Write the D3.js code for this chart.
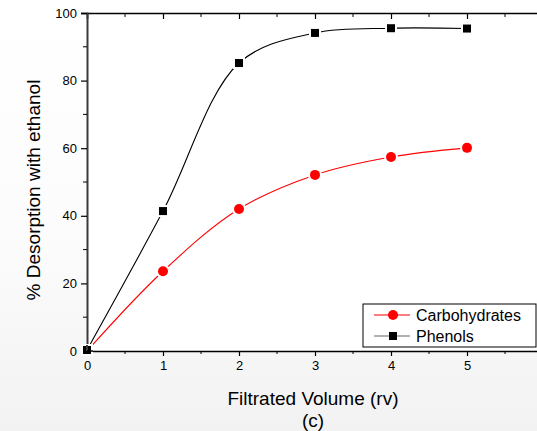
<!DOCTYPE html>
<html>
<head>
<meta charset="utf-8">
<script src="https://cdn.jsdelivr.net/npm/d3@7"></script>
<style>
  html, body { margin: 0; padding: 0; }
  body { width: 537px; height: 431px; overflow: hidden; }
  text { font-family: "Liberation Sans", Arial, sans-serif; }
</style>
</head>
<body>
<svg id="chart" width="537" height="431"></svg>
<script>
// Filtrated volume (rv) and desorption percentages
const volumes = [0, 1, 2, 3, 4, 5];
const carbohydrates = [0, 23.6, 42, 52.1, 57.4, 60.1];
const phenols = [0.3, 41.4, 85.2, 94.1, 95.5, 95.4];
const xTicks = [0, 1, 2, 3, 4, 5, 6];
const xTickLabels = ["0", "1", "2", "3", "4", "5", ""];
const yTicks = [0, 20, 40, 60, 80, 100];
const seriesNames = ["Carbohydrates", "Phenols"];

const svg = d3.select("#chart");
const W = 537, H = 431;

// soft vertical background shading
const defs = svg.append("defs");
const grad = defs.append("linearGradient").attr("id", "bg").attr("x1", 0).attr("y1", 0).attr("x2", 0).attr("y2", 1);
grad.append("stop").attr("offset", "0%").attr("stop-color", "#ffffff");
grad.append("stop").attr("offset", "55%").attr("stop-color", "#fcfcfc");
grad.append("stop").attr("offset", "100%").attr("stop-color", "#f2f2f2");
svg.append("rect").attr("width", W).attr("height", H).attr("fill", "url(#bg)");

const x = d3.scaleLinear().domain([0, 6]).range([87, 543]);
const y = d3.scaleLinear().domain([0, 100]).range([351, 13]);

// plot frame background
svg.append("rect")
  .attr("x", x(0)).attr("y", y(100))
  .attr("width", x(6) - x(0)).attr("height", y(0) - y(100))
  .attr("fill", "#ffffff");

// bottom axis (ticks outward)
const axBottom = svg.append("g").attr("transform", `translate(0,${y(0)})`)
  .call(d3.axisBottom(x).tickValues(xTicks).tickSize(5).tickPadding(5)
    .tickFormat((d, i) => xTickLabels[i]));
axBottom.selectAll("text").attr("font-size", 13).attr("fill", "#000");
axBottom.append("g").selectAll("line").data(d3.range(0.5, 6, 1)).join("line")
  .attr("x1", d => x(d)).attr("x2", d => x(d)).attr("y1", 0).attr("y2", 3)
  .attr("stroke", "#000");

// top axis (ticks inward, no labels)
const axTop = svg.append("g").attr("transform", `translate(0,${y(100)})`)
  .call(d3.axisBottom(x).tickValues(xTicks).tickSize(6).tickFormat(""));
axTop.append("g").selectAll("line").data(d3.range(0.5, 6, 1)).join("line")
  .attr("x1", d => x(d)).attr("x2", d => x(d)).attr("y1", 0).attr("y2", 4)
  .attr("stroke", "#000");

// left axis (ticks outward)
const axLeft = svg.append("g").attr("transform", `translate(${x(0)},0)`)
  .call(d3.axisLeft(y).tickValues(yTicks).tickSize(6).tickPadding(4).tickFormat(d3.format("d")));
axLeft.selectAll("text").attr("font-size", 13).attr("fill", "#000");
axLeft.append("g").selectAll("line").data(d3.range(10, 100, 20)).join("line")
  .attr("x1", 0).attr("x2", -4).attr("y1", d => y(d)).attr("y2", d => y(d))
  .attr("stroke", "#000");

[axBottom, axTop, axLeft].forEach(g => g.select(".domain").attr("stroke", "#000").attr("stroke-width", 1.5));
axLeft.select(".domain").attr("stroke", "#3a3a3a").attr("stroke-width", 2);
[axBottom, axTop, axLeft].forEach(g => g.selectAll(".tick line").attr("stroke", "#000").attr("stroke-width", 1.2));

// axis titles
svg.append("text")
  .attr("transform", `translate(40,190) rotate(-90)`)
  .attr("text-anchor", "middle").attr("font-size", 19).attr("fill", "#000")
  .text("% Desorption with ethanol");
svg.append("text")
  .attr("x", 313).attr("y", 405).attr("text-anchor", "middle").attr("font-size", 19).attr("fill", "#000")
  .text("Filtrated Volume (rv)");
svg.append("text")
  .attr("x", 313).attr("y", 427).attr("text-anchor", "middle").attr("font-size", 19).attr("fill", "#000")
  .text("(c)");

// curves
const line = d3.line().x((d, i) => x(volumes[i])).y(d => y(d)).curve(d3.curveCatmullRom.alpha(0.5));
svg.append("path").datum(carbohydrates).attr("d", line)
  .attr("fill", "none").attr("stroke", "#ff0000").attr("stroke-width", 1.1);
svg.append("path").datum(phenols).attr("d", line)
  .attr("fill", "none").attr("stroke", "#000").attr("stroke-width", 1.1);

// markers with a white halo so the curves stop short of them
const carbPts = carbohydrates.map((v, i) => [x(volumes[i]), y(v)]).slice(1);
svg.append("g").selectAll("circle").data(carbPts).join("circle")
  .attr("cx", d => d[0]).attr("cy", d => d[1]).attr("r", 5)
  .attr("fill", "#ff0000").attr("stroke", "#ffffff").attr("stroke-width", 4)
  .style("paint-order", "stroke");
const phenPts = phenols.map((v, i) => [x(volumes[i]), y(v)]);
svg.append("g").selectAll("rect").data(phenPts).join("rect")
  .attr("x", d => d[0] - 4).attr("y", d => d[1] - 4).attr("width", 8).attr("height", 8)
  .attr("fill", "#000").attr("stroke", "#ffffff").attr("stroke-width", 4)
  .style("paint-order", "stroke");
// redraw left/bottom axis lines over the origin marker halo
svg.append("line").attr("x1", x(0)).attr("x2", x(0)).attr("y1", y(0)).attr("y2", y(0) - 6)
  .attr("stroke", "#3a3a3a").attr("stroke-width", 2);
svg.append("line").attr("x1", x(0)).attr("x2", x(0) + 6).attr("y1", y(0)).attr("y2", y(0))
  .attr("stroke", "#000").attr("stroke-width", 1.5);

// legend
const lg = svg.append("g").attr("transform", "translate(363,304)");
lg.append("rect").attr("width", 173).attr("height", 43).attr("fill", "#fff").attr("stroke", "#000").attr("stroke-width", 1);
const colors = ["#ff0000", "#000"];
seriesNames.forEach((name, i) => {
  const cy = 11 + i * 21;
  lg.append("line").attr("x1", 11).attr("x2", 47).attr("y1", cy).attr("y2", cy)
    .attr("stroke", i === 0 ? "#ff0000" : "#666").attr("stroke-width", 1.1);
  if (i === 0) {
    lg.append("circle").attr("cx", 30).attr("cy", cy).attr("r", 5).attr("fill", colors[i]);
  } else {
    lg.append("rect").attr("x", 26).attr("y", cy - 4).attr("width", 8).attr("height", 8).attr("fill", colors[i]);
  }
  lg.append("text").attr("x", 53).attr("y", cy + 6).attr("font-size", 16).attr("fill", "#000").text(name);
});
</script>
</body>
</html>
